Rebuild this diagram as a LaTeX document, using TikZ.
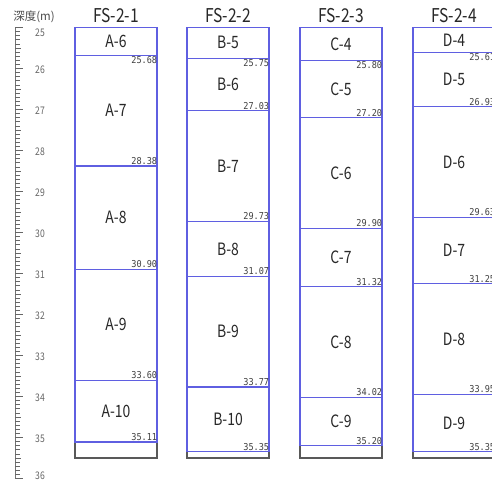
\documentclass[tikz,border=0pt]{standalone}
\usepackage{fontspec}
\setmainfont{Noto Sans CJK JP}
\newfontfamily\jpfont{Noto Sans CJK JP}
\newfontfamily\narrowfont[FakeStretch=0.82]{Noto Sans CJK JP}
\newfontfamily\depfont[FakeStretch=0.9]{DejaVu Sans Mono}
\definecolor{bline}{RGB}{95,95,225}
\definecolor{txt}{RGB}{40,40,40}
\tikzset{
  blueline/.style={draw=bline,line width=1.2pt},
  botline/.style={draw=black!65,line width=1.3pt},
  coltitle/.style={font=\narrowfont\fontsize{19}{19}\selectfont,text=txt,inner sep=0pt},
  layerlbl/.style={font=\narrowfont\fontsize{17}{17}\selectfont,text=txt,inner sep=0pt},
  deplbl/.style={font=\depfont\fontsize{9.5}{9.5}\selectfont,text=black!75,inner sep=1.2pt},
  rulerlbl/.style={font=\narrowfont\fontsize{10.5}{10.5}\selectfont,text=black!60,inner sep=0pt},
}
\newcommand\borecol[5]{%
  % #1 id, #2 left x, #3 title, #4 list name/top/bottom, #5 last depth
  \pgfmathsetmacro\rx{#2+82}
  \pgfmathsetmacro\cx{#2+41}
  \draw[botline] (#2,#5) -- (#2,35.5) -- (\rx,35.5) -- (\rx,#5);
  \draw[blueline] (#2,25) rectangle (\rx,#5);
  \node[coltitle] (#1title) at (\cx,24.70) {#3};
  \foreach \nm/\tp/\bt [count=\i] in {#4} {
    \pgfmathsetmacro\mid{(\tp+\bt)/2}
    \node[layerlbl] (#1L\i) at (\cx,\mid) {\nm};
    \draw[blueline] (#2,\bt) -- (\rx,\bt);
    \ifnum\i=1
      \node[deplbl,anchor=north east] (#1D\i) at (\rx+1.5,\bt) {\bt};
    \else
      \node[deplbl,anchor=south east] (#1D\i) at (\rx+1.5,\bt) {\bt};
    \fi
  }
}
\begin{document}
\begin{tikzpicture}[x=1pt,y=-1pt]
\useasboundingbox (0,0) rectangle (492,481);
\clip (0,0) rectangle (492,481);
\fill[white] (0,0) rectangle (492,481);
\node[font=\jpfont\fontsize{11.5}{11.5}\selectfont,text=black!70,inner sep=0pt] (depthtitle) at (34,17) {深度(m)};
\begin{scope}[x=1pt,y=-41pt,yshift=997.5pt]
  % ruler
  \draw[black!55,line width=0.8pt] (15,25) -- (15,36);
  \foreach \k in {0,...,110} {
    \pgfmathsetmacro\dd{25+\k/10}
    \pgfmathtruncatemacro\mfive{mod(\k,5)}
    \pgfmathtruncatemacro\mten{mod(\k,10)}
    \ifnum\mten=0
      \draw[black!60,line width=0.7pt] (15,\dd) -- (23,\dd);
    \else\ifnum\mfive=0
      \draw[black!60,line width=0.7pt] (15,\dd) -- (21,\dd);
    \else
      \draw[black!60,line width=0.7pt] (15,\dd) -- (19.5,\dd);
    \fi\fi
  }
  \node[rulerlbl] (r25) at (40,25.14) {25};
  \foreach \m in {26,...,35} {
    \node[rulerlbl] (r\m) at (40,\m+0.03) {\m};
  }
  \node[rulerlbl] (r36) at (40,35.93) {36};
  \borecol{A}{75}{FS-2-1}{A-6/25/25.68,A-7/25.68/28.38,A-8/28.38/30.90,A-9/30.90/33.60,A-10/33.60/35.11}{35.11}
  \borecol{B}{187}{FS-2-2}{B-5/25/25.75,B-6/25.75/27.03,B-7/27.03/29.73,B-8/29.73/31.07,B-9/31.07/33.77,B-10/33.77/35.35}{35.35}
  \borecol{C}{300}{FS-2-3}{C-4/25/25.80,C-5/25.80/27.20,C-6/27.20/29.90,C-7/29.90/31.32,C-8/31.32/34.02,C-9/34.02/35.20}{35.20}
  \borecol{D}{413}{FS-2-4}{D-4/25/25.61,D-5/25.61/26.93,D-6/26.93/29.63,D-7/29.63/31.25,D-8/31.25/33.95,D-9/33.95/35.35}{35.35}
\end{scope}
\end{tikzpicture}
\end{document}
